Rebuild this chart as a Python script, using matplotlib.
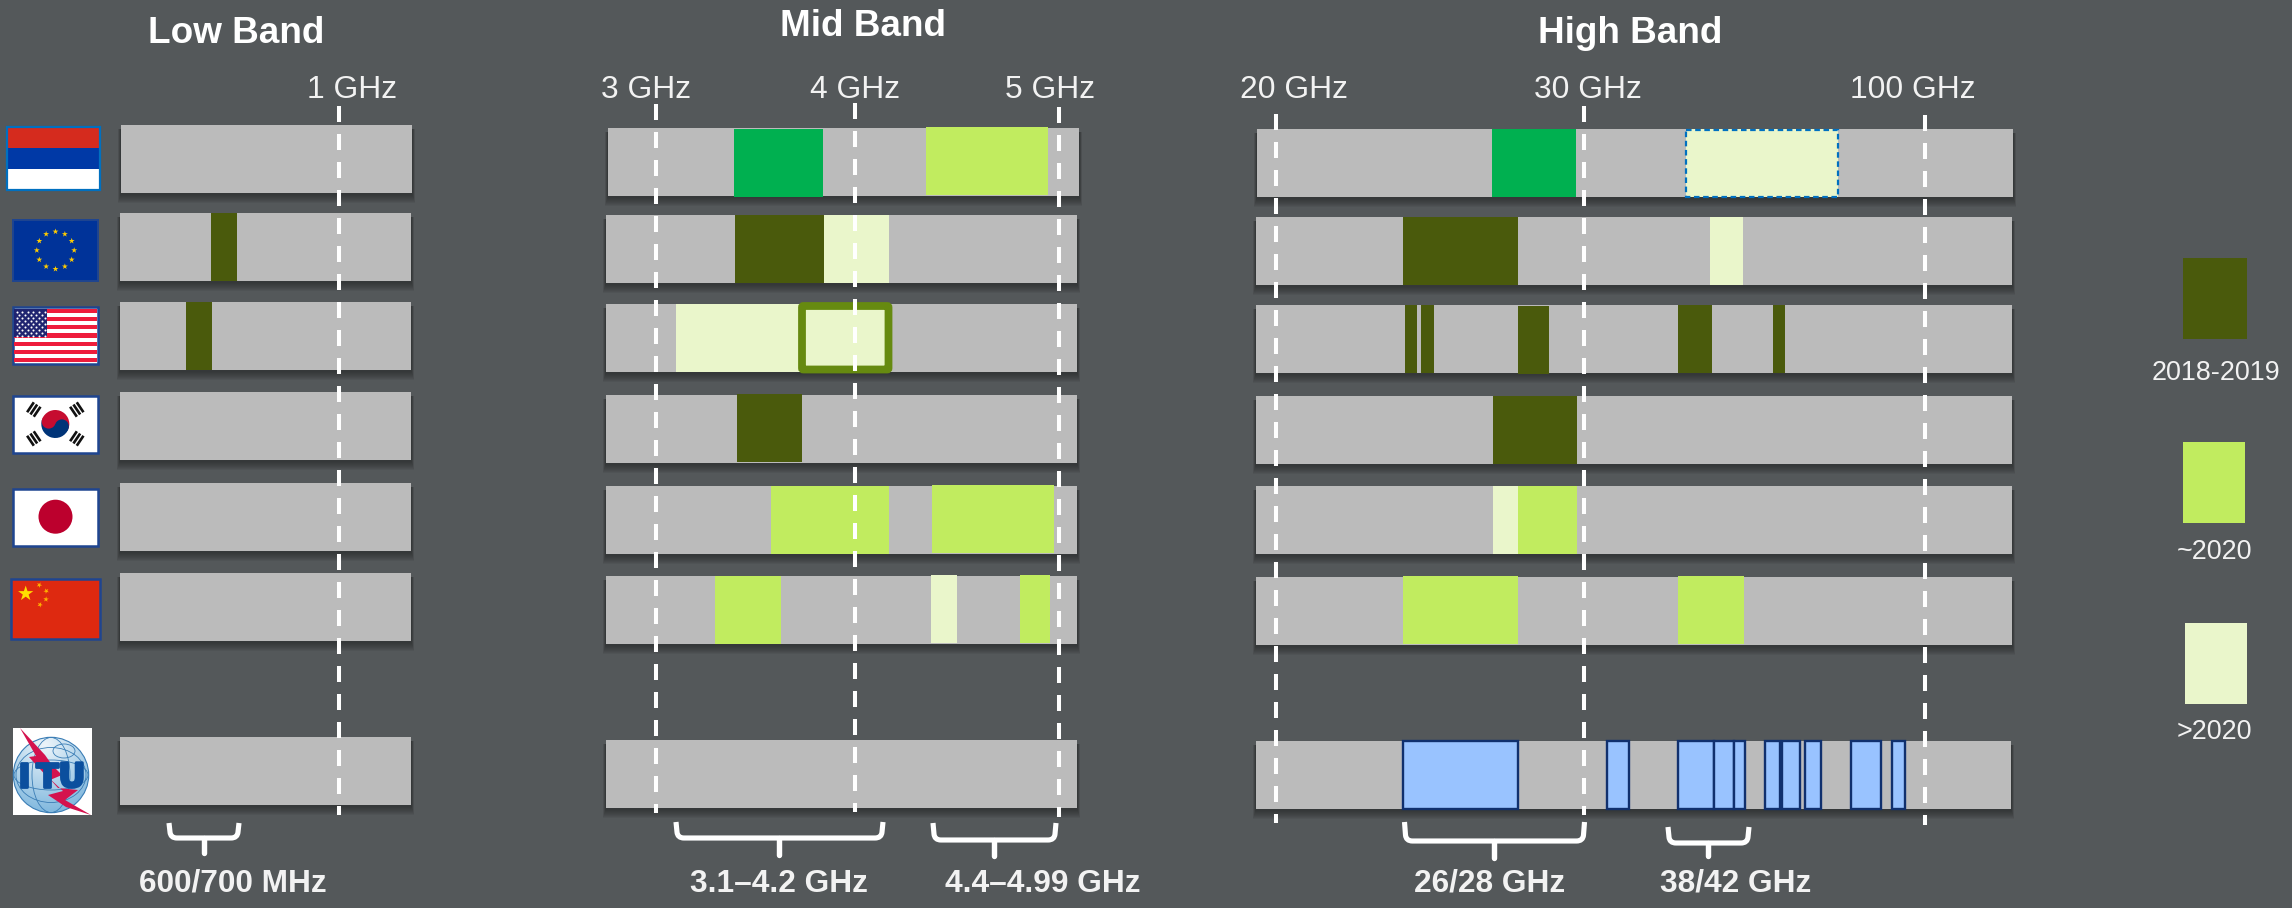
import numpy as np
import matplotlib
matplotlib.use("Agg")
import matplotlib.pyplot as plt
import matplotlib.patheffects as pe
from matplotlib.patches import Rectangle, Circle, Polygon, PathPatch, FancyBboxPatch, Wedge, Ellipse
from matplotlib.path import Path

plt.rcParams["font.family"] = ["Liberation Sans", "DejaVu Sans"]
plt.rcParams["lines.scale_dashes"] = False

# Allocation status colours
BG = "#54585A"
BAR = "#BBBBBB"
STATUS = {
    "2018-2019": "#4A5A0C",
    "~2020": "#C1EC5F",
    ">2020": "#EAF6CB",
    "trial": "#00B050",
    "itu": "#99C3FF",
}

band_titles = ["Low Band", "Mid Band", "High Band"]
legend_labels = ["2018-2019", "~2020", ">2020"]

# Row tops per band; every row is 68 units tall
low_rows = [125, 213, 302, 392, 483, 573, 737]
mid_rows = [128, 215, 304, 395, 486, 576, 740]
high_rows = [129, 217, 305, 396, 486, 577, 741]

# Row extents on the drawing scale
low_extent = [(121, 412), (120, 411), (120, 411), (120, 411), (120, 411), (120, 411), (120, 411)]
mid_extent = [(608, 1079), (606, 1077), (606, 1077), (606, 1077), (606, 1077), (606, 1077), (606, 1077)]
high_extent = [(1257, 2013), (1256, 2012), (1256, 2012), (1256, 2012), (1256, 2012), (1256, 2012), (1256, 2011)]

# Allocated spectrum blocks: row, start, end, status, vertical nudge
low_spans = [
    (1, 211, 237, "2018-2019", 0),
    (2, 186, 212, "2018-2019", 0),
]
mid_spans = [
    (0, 734, 823, "trial", 1),
    (0, 926, 1048, "~2020", -1),
    (1, 735, 824, "2018-2019", 0),
    (1, 824, 889, ">2020", 0),
    (2, 676, 802, ">2020", 0),
    (3, 737, 802, "2018-2019", -1),
    (4, 771, 889, "~2020", -0.5),
    (4, 932, 1054, "~2020", -1),
    (5, 715, 781, "~2020", 0),
    (5, 931, 957, ">2020", -1),
    (5, 1020, 1050, "~2020", -1),
]
high_spans = [
    (0, 1492, 1576, "trial", 0),
    (0, 1686, 1838, ">2020", 0),
    (1, 1403, 1518, "2018-2019", -0.5),
    (1, 1710, 1743, ">2020", -0.5),
    (2, 1405, 1417, "2018-2019", 0),
    (2, 1421, 1434, "2018-2019", 0),
    (2, 1518, 1549, "2018-2019", 1),
    (2, 1678, 1712, "2018-2019", 0),
    (2, 1773, 1785, "2018-2019", 0),
    (3, 1493, 1577, "2018-2019", 0),
    (4, 1493, 1518, ">2020", 0),
    (4, 1518, 1577, "~2020", 0),
    (5, 1403, 1518, "~2020", -1),
    (5, 1678, 1744, "~2020", -1),
]
itu_blocks = [
    (1403, 1518), (1607, 1629), (1678, 1714), (1714, 1734), (1734, 1745),
    (1765, 1779.5), (1781.5, 1800.4), (1804.5, 1821), (1851, 1880.5), (1892, 1905),
]

# Frequency markers: label, label centre, line position, line start, line end
freq_markers = [
    ("1 GHz", 352, 339.3, 106, 815),
    ("3 GHz", 646, 655.7, 104, 813),
    ("4 GHz", 855, 855.3, 103, 812),
    ("5 GHz", 1050, 1059.3, 107, 817),
    ("20 GHz", 1294, 1276.4, 114, 823),
    ("30 GHz", 1588, 1583.6, 106, 815),
    ("100 GHz", 1913, 1925.4, 115, 825),
]

# Braces: label, label centre, left, right, top, bar, stem x, stem end
braces = [
    ("600/700 MHz", 233, 169, 239, 823, 838, 204, 855),
    ("3.1–4.2 GHz", 779, 676, 883, 822, 838, 778.5, 857),
    ("4.4–4.99 GHz", 1043, 933, 1056, 823, 840, 994, 858),
    ("26/28 GHz", 1490, 1404.5, 1584.5, 822, 841, 1494, 860),
    ("38/42 GHz", 1736, 1668, 1749, 827, 843, 1708, 858),
]

fig = plt.figure(figsize=(22.92, 9.08), dpi=100, facecolor=BG)
ax = fig.add_axes([0, 0, 1, 1])
ax.set_xlim(0, 2292)
ax.set_ylim(908, 0)
ax.axis("off")

H = 68


def rect(x0, y0, x1, y1, fc, ec="none", lw=0, z=2, **kw):
    p = Rectangle((x0, y0), x1 - x0, y1 - y0, facecolor=fc, edgecolor=ec, linewidth=lw, zorder=z, **kw)
    ax.add_patch(p)
    return p


def draw_rows(tops, extents):
    for top, (x0, x1) in zip(tops, extents):
        # soft drop shadow under each row
        for d in range(2, 11):
            rect(x0 - d * 0.3, top + 4, x1 + d * 0.3, top + H + d, "#222424", z=1, alpha=0.085)
        rect(x0, top, x1, top + H, BAR, z=2)


def draw_spans(tops, spans):
    for row, start, end, status, nudge in spans:
        rect(start, tops[row] + nudge, end, tops[row] + H + nudge, STATUS[status], z=3)


for tops, extents in [(low_rows, low_extent), (mid_rows, mid_extent), (high_rows, high_extent)]:
    draw_rows(tops, extents)
draw_spans(low_rows, low_spans)
draw_spans(mid_rows, mid_spans)
draw_spans(high_rows, high_spans)

# Highlighted C-band range on the US row
ax.add_patch(FancyBboxPatch((802, 306), 86.5, 63.5, boxstyle="round,pad=0,rounding_size=1.5",
                            facecolor=STATUS[">2020"], edgecolor="#668A10", linewidth=5.6, zorder=4))
# Dashed outline on the first row's upper millimetre-wave block
rect(1686, 129.5, 1838, 196.5, "none", ec="#0070C0", lw=1.6, z=4, linestyle=(0, (4, 2.6)))

# ITU identified bands
for start, end in itu_blocks:
    rect(start, high_rows[6], end, high_rows[6] + H, STATUS["itu"], ec="#10306E", lw=1.7, z=3)

# Frequency markers
for label, lx, x, y0, y1 in freq_markers:
    ax.plot([x, x], [y0, y1], color="white", lw=2.9, zorder=6,
            linestyle=(0, (11.52, 8.64)), dash_capstyle="butt")
    ax.text(lx, 89.5, label, color="#F2F2F2", fontsize=22.9, ha="center", va="center", zorder=7)

# Band titles
for title, tx, ty in zip(band_titles, [236, 862.5, 1630.5], [33.5, 26.5, 33.5]):
    ax.text(tx, ty, title, color="white", fontsize=26.6, fontweight="bold", ha="center", va="center", zorder=7)

# Braces under the axis rows
for label, lx, x0, x1, top, bar, stem, end in braces:
    verts = [(x0, top), (x0 + 1, bar - 6), (x0 + 1.5, bar), (x0 + 8, bar), (x1 - 8, bar),
             (x1 - 1.5, bar), (x1 - 1, bar - 6), (x1, top)]
    codes = [Path.MOVETO, Path.LINETO, Path.CURVE3, Path.CURVE3, Path.LINETO,
             Path.CURVE3, Path.CURVE3, Path.LINETO]
    ax.add_patch(PathPatch(Path(verts, codes), facecolor="none", edgecolor="white",
                           linewidth=3.7, capstyle="butt", joinstyle="round", zorder=6))
    ax.plot([stem, stem], [bar, end - 2], color="white", lw=3.9, solid_capstyle="round", zorder=6)
    ax.text(lx, 884, label, color="#F2F2F2", fontsize=22.8, fontweight="bold", ha="center", va="center", zorder=7)

# Legend
swatches = [(2183, 258, 2247, 339), (2183, 442, 2245, 523), (2185, 623, 2247, 704)]
for lab, (x0, y0, x1, y1), tx, ty in zip(legend_labels, swatches, [2216, 2214.5, 2214], [373, 552, 732]):
    rect(x0, y0, x1, y1, STATUS[lab], z=3)
    ax.text(tx, ty, lab, color="#F2F2F2", fontsize=19.4, ha="center", va="center", zorder=7)


def star(cx, cy, r, color, z=5, rot=0.0):
    ang = np.deg2rad(-90 + rot) + np.arange(10) * np.pi / 5
    rad = np.where(np.arange(10) % 2 == 0, r, r * 0.382)
    ax.add_patch(Polygon(np.c_[cx + rad * np.cos(ang), cy + rad * np.sin(ang)],
                         closed=True, facecolor=color, edgecolor="none", zorder=z))


FRAME = "#1F4590"

# Russia
rect(7, 127, 100, 148, "#D52B1E", z=3)
rect(7, 148, 100, 169, "#0039A6", z=3)
rect(7, 169, 100, 190, "white", z=3)
rect(7, 127, 100, 190, "none", ec="#0070C0", lw=1.6, z=4)

# European Union
rect(13, 220, 98, 281, "#003399", ec=FRAME, lw=1.4, z=3)
for k in range(12):
    a = np.deg2rad(30 * k)
    star(55.5 + 18.7 * np.cos(a), 250.3 + 18.7 * np.sin(a), 3.1, "#FFCC00")

# United States
rect(13, 307, 98, 364, "white", ec=FRAME, lw=1.8, z=3)
stripe = (362 - 309) / 13
for k in range(0, 13, 2):
    rect(14, 309 + k * stripe, 97, 309 + (k + 1) * stripe, "#EE1C3C", z=4)
rect(14, 309, 47, 337, "#1F2470", z=5)
star_x, star_y = [], []
for r in range(9):
    for c in range(6 if r % 2 == 0 else 5):
        star_x.append(16.5 + c * 5.6 + (0 if r % 2 == 0 else 2.8))
        star_y.append(311.5 + r * 3.0)
ax.scatter(star_x, star_y, s=2.2, c="white", linewidths=0, zorder=6)

# South Korea: the y axis runs downward, so 200-380 degrees is the upper half
rect(13, 395.5, 98, 452.5, "white", ec=FRAME, lw=1.8, z=3)
KX, KY, KR = 55.3, 424, 14
ax.add_patch(Wedge((KX, KY), KR, 200, 380, facecolor="#C60C30", zorder=4))
ax.add_patch(Wedge((KX, KY), KR, 20, 200, facecolor="#003478", zorder=4))
c, s = np.cos(np.deg2rad(20)), np.sin(np.deg2rad(20))
ax.add_patch(Circle((KX - KR / 2 * c, KY - KR / 2 * s), KR / 2, facecolor="#C60C30", zorder=5))
ax.add_patch(Circle((KX + KR / 2 * c, KY + KR / 2 * s), KR / 2, facecolor="#003478", zorder=5))
for (dx, dy) in [(-21.5, -14.5), (21.5, -14.5), (-21.5, 14.5), (21.5, 14.5)]:
    ang = np.arctan2(dy, dx)
    ux, uy = np.cos(ang), np.sin(ang)
    px, py = -uy, ux
    for off in (-4, 0, 4):
        ax.plot([KX + dx + ux * off - px * 6, KX + dx + ux * off + px * 6],
                [KY + dy + uy * off - py * 6, KY + dy + uy * off + py * 6],
                color="#111111", lw=1.9, solid_capstyle="butt", zorder=5)

# Japan
rect(13, 488.5, 98, 545.5, "white", ec=FRAME, lw=1.8, z=3)
ax.add_patch(Circle((55.5, 516.7), 17, facecolor="#BC002D", zorder=4))

# China
rect(11, 579, 100, 638.5, "#DE2910", ec=FRAME, lw=1.8, z=3)
star(25.7, 593.6, 8, "#FFDE00")
for (sx, sy, rt) in [(39.3, 585, 25), (46.3, 591, 45), (46, 599.3, 5), (40, 604.7, 25)]:
    star(sx, sy, 2.9, "#FFB000", rot=rt)

# ITU emblem
rect(13, 728, 92, 815, "white", z=3)
globe = Circle((51, 775), 37.7, facecolor="none", edgecolor="#3A7DB5", linewidth=0.8, zorder=5)
ax.add_patch(globe)
gy, gx = np.mgrid[737:813:152j, 13:89:152j]
shade = np.clip(np.hypot(gx - 45, gy - 745) / 68, 0, 1)
img = np.zeros(shade.shape + (3,))
top_tone = np.array([0.93, 0.96, 0.98])
low_tone = np.array([0.50, 0.72, 0.87])
for i in range(3):
    img[..., i] = top_tone[i] + (low_tone[i] - top_tone[i]) * shade
im = ax.imshow(img, extent=(13, 89, 813, 737), zorder=4, aspect="auto", interpolation="bilinear")
im.set_clip_path(Circle((51, 775), 37.7, transform=ax.transData))
ax.set_xlim(0, 2292)
ax.set_ylim(908, 0)
for w, h, cx, cy in [(74, 30, 51, 775), (38, 75, 51, 775), (22, 14, 64, 751), (70, 55, 51, 775)]:
    ax.add_patch(Ellipse((cx, cy), w, h, facecolor="none", edgecolor="#3A7DB5", linewidth=0.6, zorder=5))
bolt_top = [(20, 728), (45, 755), (52, 765), (62, 775), (50, 780), (29, 757), (36, 756)]
bolt_low = [(48, 777), (58, 788), (78, 790), (65, 800), (91, 815), (66, 807), (48, 795), (63, 791)]
ax.add_patch(Polygon(bolt_top, closed=True, facecolor="#D4124E", zorder=6))
ax.add_patch(Polygon(bolt_low, closed=True, facecolor="#D4124E", zorder=6))
for ch, cx in [("I", 24), ("T", 47), ("U", 72)]:
    ax.text(cx, 777.5, ch, color="#0B4F9E", fontsize=24, fontweight="bold", family="DejaVu Sans",
            ha="center", va="center", zorder=7,
            path_effects=[pe.withStroke(linewidth=2.0, foreground="#0B4F9E")])

fig.savefig("out.png", dpi=100, facecolor=BG)
